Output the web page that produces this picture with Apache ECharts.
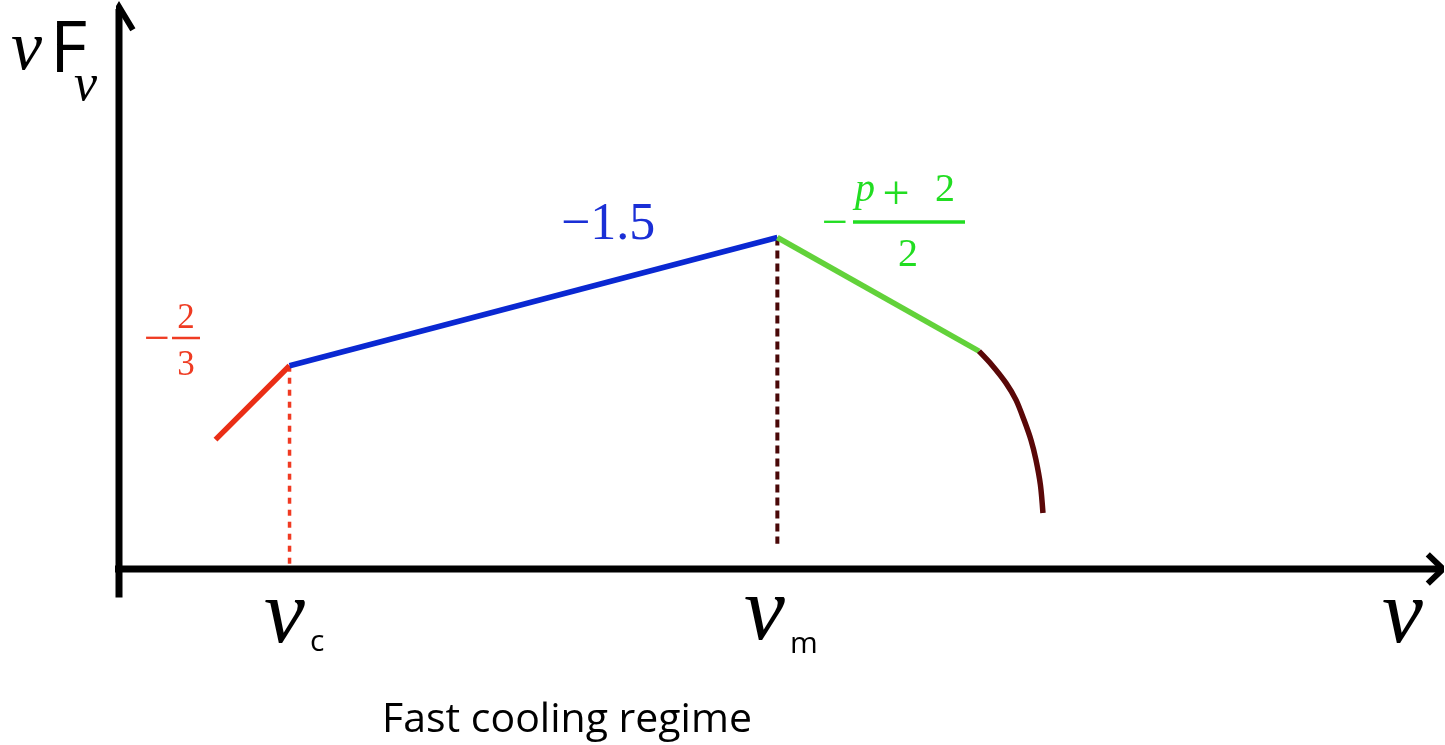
<!DOCTYPE html>
<html>
<head>
<meta charset="utf-8">
<script src="https://cdn.jsdelivr.net/npm/echarts@6/dist/echarts.min.js"></script>
<style>html,body{margin:0;padding:0;background:#fff;}#c{width:1445px;height:745px;}</style>
</head>
<body>
<div id="c"></div>
<script>
// Schematic spectrum (arbitrary units, x and y 0..100)
const nuC = 12.9;          // cooling break
const nuM = 49.8;          // peak (nu_m)
const redSeg = [[7.3, 23.1], [12.9, 36.3]];
const blueSeg = [[12.9, 36.3], [49.8, 59.2]];
const greenSeg = [[49.8, 59.2], [65.05, 38.9]];
const cutoffCurve = [[65.05, 38.9], [66.04, 36.4], [67.1, 33.2], [67.85, 30.2], [68.46, 26.6],
                     [68.99, 23.0], [69.36, 19.5], [69.7, 15.0], [69.89, 10.0]];
const nuCDrop = [[nuC, 36.3], [nuC, 0]];
const nuMDrop = [[nuM, 59.2], [nuM, 4.5]];
const xAxisLine = [[-2.0, 0], [100, 0]];
const yAxisLine = [[0, -5.1], [0, 100]];
const xArrow = [[99.0, 2.6], [100.15, 0], [99.0, -2.6]];
const yArrow = [[-1.05, 96.3], [0, 100.4], [1.05, 96.3]];

const chart = echarts.init(document.getElementById('c'), null, {renderer: 'canvas'});

function seg(data, color, width, type, smooth) {
  return {
    type: 'line', data: data, symbol: 'none', clip: false, smooth: smooth || false,
    silent: true, animation: false,
    lineStyle: {color: color, width: width, type: type || 'solid', cap: 'butt', join: 'miter'}
  };
}

const serif = '"Liberation Serif", "DejaVu Serif", serif';
const sans = '"Open Sans", "Noto Sans", sans-serif';
function txt(x, y, text, font, color, align) {
  return {type: 'text', x: x, y: y, silent: true,
    style: {text: text, font: font, fill: color, align: align || 'left', verticalAlign: 'top'}};
}
function bar(x1, x2, y, color, w) {
  return {type: 'line', silent: true, shape: {x1: x1, y1: y, x2: x2, y2: y}, style: {stroke: color, lineWidth: w}};
}

const red = '#ef3b22', blue = '#1a2fd6', green = '#22dd22';

chart.setOption({
  animation: false,
  grid: {left: 119, right: 4, top: 9, bottom: 176, containLabel: false},
  xAxis: {type: 'value', min: 0, max: 100, show: false},
  yAxis: {type: 'value', min: 0, max: 100, show: false},
  series: [
    seg(nuCDrop, '#f03a22', 3.5, [6, 6]),
    seg(nuMDrop, '#4a0808', 4, [8, 5]),
    seg(xAxisLine, '#000', 7),
    seg(yAxisLine, '#000', 7),
    seg(xArrow, '#000', 6),
    seg(yArrow, '#000', 6),
    seg(redSeg, '#ea2e16', 5.5),
    seg(blueSeg, '#0a28d2', 5.5),
    seg(greenSeg, '#62d23a', 5.5),
    seg(cutoffCurve, '#5a0808', 5.5, 'solid', 0.3)
  ],
  graphic: [
    // y-axis title  νF_ν
    txt(11, 16, 'ν', 'italic 70px ' + serif, '#000'),
    txt(50, 15, 'F', '72px ' + sans, '#000'),
    txt(74, 60, 'ν', 'italic 52px ' + serif, '#000'),
    // red slope label  -2/3
    txt(144, 318, '−', '46px ' + serif, red),
    bar(172, 200, 338, red, 2.5),
    txt(186, 301, '2', '35px ' + serif, red, 'center'),
    txt(186, 348, '3', '35px ' + serif, red, 'center'),
    // blue slope label
    txt(561, 199, '−1.5', '52px ' + serif, blue),
    // green slope label  -(p+2)/2
    txt(822, 202, '−', '46px ' + serif, green),
    bar(853, 965, 222, green, 3.5),
    txt(855, 170, 'p', 'italic 40px ' + serif, green),
    txt(896, 172, '+', '48px ' + serif, green, 'center'),
    txt(945, 170, '2', '40px ' + serif, green, 'center'),
    txt(908, 235, '2', '40px ' + serif, green, 'center'),
    // frequency labels
    txt(264, 572, 'ν', 'italic 92px ' + serif, '#000'),
    txt(310, 627, 'c', '30px ' + sans, '#000'),
    txt(744, 569, 'ν', 'italic 92px ' + serif, '#000'),
    txt(790, 629, 'm', '30px ' + sans, '#000'),
    txt(1382, 572, 'ν', 'italic 92px ' + serif, '#000'),
    // caption
    txt(567, 700, 'Fast cooling regime', '41px ' + sans, '#000', 'center')
  ]
});
</script>
</body>
</html>
